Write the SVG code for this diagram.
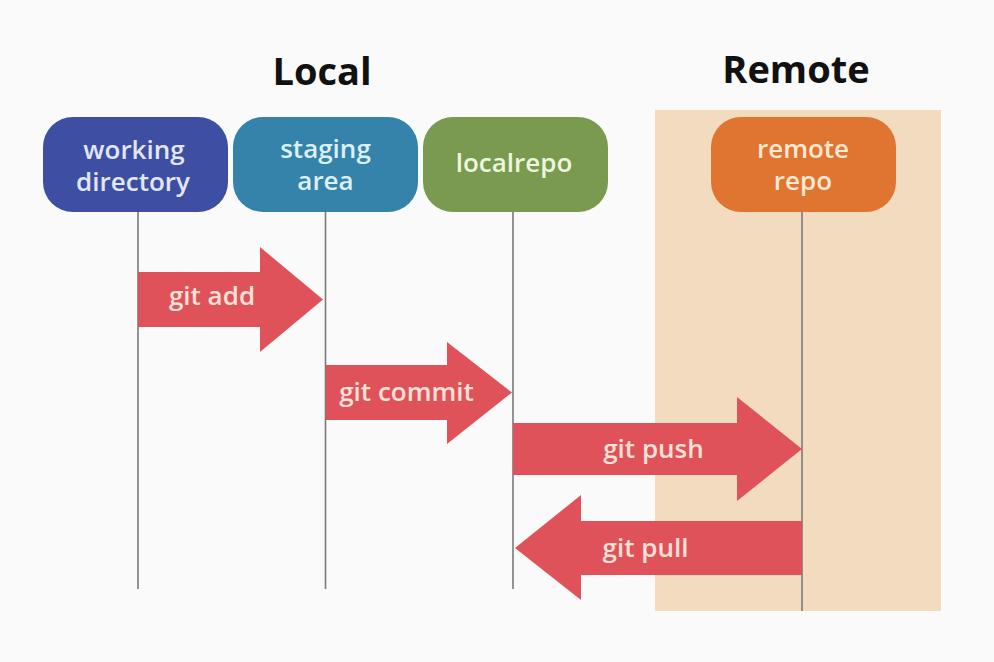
<svg xmlns="http://www.w3.org/2000/svg" width="994" height="662" viewBox="0 0 994 662">
  <style>
    .title { font-family: "Open Sans", "Liberation Sans", sans-serif; font-weight: 700; font-size: 38px; fill: #111111; text-anchor: middle; }
    .lbl { font-family: "Open Sans", "Liberation Sans", sans-serif; font-weight: 600; font-size: 26px; text-anchor: middle; }
    .life { stroke: #7a7a7a; stroke-width: 1.6; fill: none; }
    .arrow { fill: #e0525a; }
    .alab { fill: #f9e1d8; }
  </style>
  <rect x="0" y="0" width="994" height="662" fill="#fafafa"/>

  <g id="remote-panel">
    <rect x="655" y="110" width="286" height="501" fill="#f3dbc0"/>
  </g>

  <g id="titles">
    <text class="title" x="322" y="85">Local</text>
    <text class="title" x="796" y="83">Remote</text>
  </g>

  <g id="connectors">
    <line class="life" x1="138" y1="212" x2="138" y2="589"/>
    <line class="life" x1="325.5" y1="212" x2="325.5" y2="589"/>
    <line class="life" x1="513" y1="212" x2="513" y2="589"/>
    <line class="life" x1="802" y1="212" x2="802" y2="611"/>

    <g id="git-add">
      <polygon class="arrow" points="138,272 260,272 260,247 323,299.5 260,352 260,327 138,327"/>
      <text class="lbl alab" x="212" y="305">git add</text>
    </g>
    <g id="git-commit">
      <polygon class="arrow" points="326,365 447,365 447,342 512,392.5 447,444 447,420 326,420"/>
      <text class="lbl alab" x="406.5" y="401">git commit</text>
    </g>
    <g id="git-push">
      <polygon class="arrow" points="513,423 737,423 737,397 802,449 737,501 737,475 513,475"/>
      <text class="lbl alab" x="653.5" y="458">git push</text>
    </g>
    <g id="git-pull">
      <polygon class="arrow" points="802,521 581,521 581,495 515,548 581,600 581,575 802,575"/>
      <text class="lbl alab" x="645.5" y="557">git pull</text>
    </g>
  </g>

  <g id="working-directory">
    <rect x="43" y="117" width="185" height="95" rx="30" fill="#3e4fa3"/>
    <text class="lbl" fill="#e2e6f6"><tspan x="134" y="159">working</tspan><tspan x="133" y="191">directory</tspan></text>
  </g>
  <g id="staging-area">
    <rect x="233" y="117" width="185" height="95" rx="30" fill="#3583ab"/>
    <text class="lbl" fill="#dcf0f7"><tspan x="325.5" y="158">staging</tspan><tspan x="325.5" y="190">area</tspan></text>
  </g>
  <g id="localrepo">
    <rect x="423" y="117" width="185" height="95" rx="30" fill="#7a9a50"/>
    <text class="lbl" fill="#ecf7dc" x="514" y="172">localrepo</text>
  </g>
  <g id="remote-repo">
    <rect x="711" y="117" width="185" height="95" rx="30" fill="#e07431"/>
    <text class="lbl" fill="#fde8d2"><tspan x="803" y="158">remote</tspan><tspan x="803" y="190">repo</tspan></text>
  </g>
</svg>
